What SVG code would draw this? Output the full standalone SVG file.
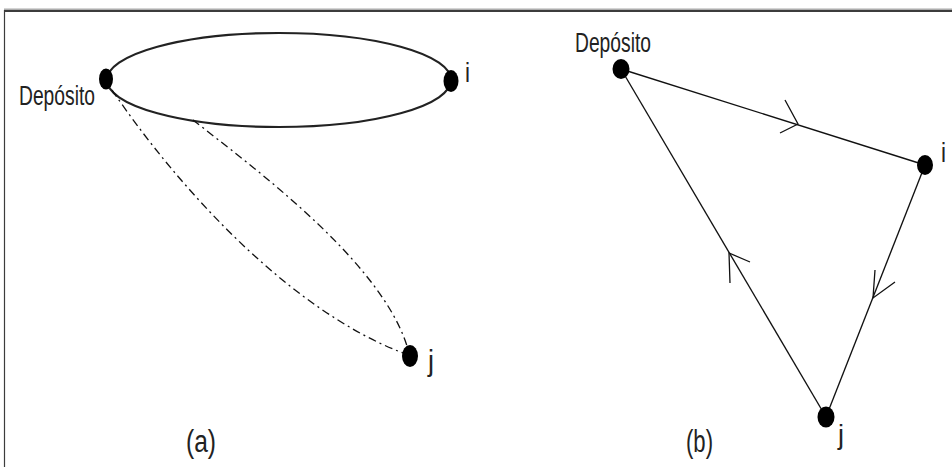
<svg xmlns="http://www.w3.org/2000/svg" width="952" height="467" viewBox="0 0 952 467">
<style>
.lbl{font-family:"Liberation Sans",Arial,sans-serif;fill:#222}
.node{fill:#000}
.solid{fill:none;stroke:#111;stroke-width:1.35}
.thick{fill:none;stroke:#222;stroke-width:2.2}
.dash{fill:none;stroke:#111;stroke-width:1.3;stroke-dasharray:8 4 2 4}
.arrow{fill:none;stroke:#111;stroke-width:1.3}
</style>
<rect width="952" height="467" fill="#fff"/>
<g id="frame">
<line x1="4" y1="9" x2="952" y2="9" stroke="#a8a8a8" stroke-width="1"/>
<line x1="4" y1="10.8" x2="952" y2="10.8" stroke="#3c3c3c" stroke-width="2.2"/>
<line x1="4.5" y1="10" x2="4.5" y2="467" stroke="#3c3c3c" stroke-width="1.2"/>
</g>
<g id="connectors">
<ellipse class="thick" cx="279" cy="80" rx="172" ry="47"/>
<path class="dash" d="M112,90 C180,190 290,310 403,353"/>
<path class="dash" d="M193,120 C250,165 380,260 407,346"/>
<line class="solid" x1="621" y1="69" x2="925" y2="165"/>
<line class="solid" x1="925" y1="165" x2="826" y2="417"/>
<line class="solid" x1="826" y1="417" x2="621" y2="69"/>
<polyline class="arrow" points="785,100 798,124 780,133"/>
<polyline class="arrow" points="875,270 873,298 895,282"/>
<polyline class="arrow" points="730,283 729,253 750,262"/>
</g>
<g id="a-deposito">
<ellipse class="node" cx="106" cy="79" rx="7" ry="10.5"/>
<text class="lbl" x="19" y="105" font-size="27" textLength="76" lengthAdjust="spacingAndGlyphs">Depósito</text>
</g>
<g id="a-i">
<ellipse class="node" cx="451" cy="81" rx="7.5" ry="11"/>
<text class="lbl" x="465" y="82" font-size="27" textLength="5" lengthAdjust="spacingAndGlyphs">i</text>
</g>
<g id="a-j">
<ellipse class="node" cx="410" cy="356" rx="8" ry="11"/>
<text class="lbl" x="428" y="371" font-size="30" textLength="6" lengthAdjust="spacingAndGlyphs">j</text>
</g>
<g id="b-deposito">
<ellipse class="node" cx="621" cy="69" rx="8.5" ry="10"/>
<text class="lbl" x="575" y="52" font-size="27" textLength="76" lengthAdjust="spacingAndGlyphs">Depósito</text>
</g>
<g id="b-i">
<ellipse class="node" cx="925" cy="165" rx="8" ry="10"/>
<text class="lbl" x="941" y="162" font-size="27" textLength="5" lengthAdjust="spacingAndGlyphs">i</text>
</g>
<g id="b-j">
<ellipse class="node" cx="826" cy="417" rx="8.5" ry="10.5"/>
<text class="lbl" x="838" y="444" font-size="27" textLength="6" lengthAdjust="spacingAndGlyphs">j</text>
</g>
<g id="captions">
<text class="lbl" x="186" y="452" font-size="31" textLength="30" lengthAdjust="spacingAndGlyphs">(a)</text>
<text class="lbl" x="686" y="452" font-size="31" textLength="27" lengthAdjust="spacingAndGlyphs">(b)</text>
</g>
</svg>
